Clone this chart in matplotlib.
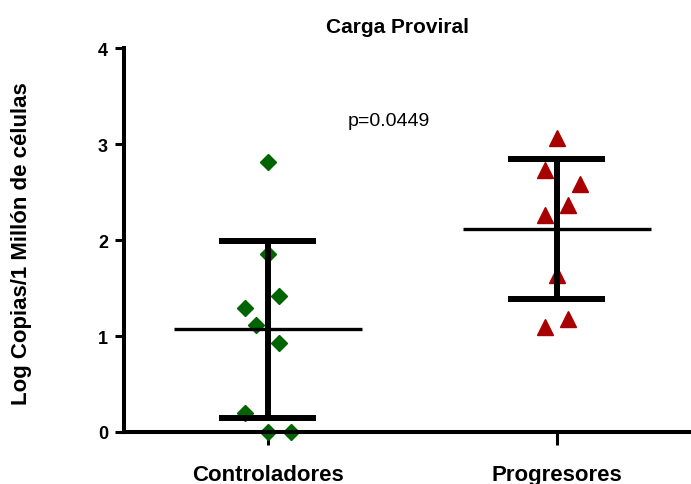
import numpy as np
import matplotlib
matplotlib.use("Agg")
from matplotlib import pyplot as plt

# Values
groups = ["Controladores", "Progresores"]
controladores = [2.81, 1.85, 1.42, 1.29, 1.11, 0.93, 0.20, 0.0, 0.0]
progresores = [3.06, 2.73, 2.58, 2.36, 2.26, 1.64, 1.18, 1.09]
p_text = "p=0.0449"
title = "Carga Proviral"
ylabel = "Log Copias/1 Millón de células"
yticks = [0, 1, 2, 3, 4]

# Horizontal scatter of the points inside each column (layout only)
jitter_ctrl = [0, 0, 0.04, -0.08, -0.04, 0.04, -0.08, 0, 0.08]
jitter_prog = [0, -0.04, 0.08, 0.04, -0.04, 0, 0.04, -0.04]

plt.rcParams["font.family"] = ["Liberation Sans", "DejaVu Sans"]

fig = plt.figure(figsize=(6.91, 4.85), dpi=100)
W, H = 691, 485
ax = fig.add_axes([124 / W, (H - 433) / H, (W - 124) / W, (433 - 49) / H])

styles = [
    (controladores, jitter_ctrl, "D", 8.2, "#006400"),
    (progresores, jitter_prog, "^", 11.5, "#a80000"),
]
for i, (vals, jit, mk, ms, col) in enumerate(styles):
    vals = np.array(vals)
    ax.plot(i + np.array(jit), vals, ls="none", marker=mk, ms=ms,
            color=col, mec=col, zorder=2, clip_on=False)
    mean = vals.mean()
    sd = vals.std(ddof=1)
    # mean line
    ax.hlines(mean, i - 0.325, i + 0.325, color="black", lw=2.4, zorder=3)
    # error bar (mean +/- SD)
    ax.vlines(i, mean - sd, mean + sd, color="black", lw=4.3, zorder=3)
    ax.hlines([mean - sd, mean + sd], i - 0.167, i + 0.167,
              color="black", lw=4.3, zorder=3)

ax.set_xlim(-0.497, 1.465)
ax.set_ylim(0, 4)
ax.set_yticks(yticks)
ax.set_xticks(range(len(groups)))
ax.set_xticklabels(groups, fontsize=16, fontweight="bold")
ax.tick_params(axis="y", labelsize=13, width=2.2, length=6.5, pad=5)
ax.tick_params(axis="x", width=2.2, length=9, pad=14)
for lab in ax.get_yticklabels():
    lab.set_fontweight("bold")

for s in ["top", "right"]:
    ax.spines[s].set_visible(False)
for s in ["left", "bottom"]:
    ax.spines[s].set_linewidth(2.9)

fig.text(22 / W, 1 - 244 / H, ylabel, rotation=90, ha="center",
         va="center", fontsize=16, fontweight="bold")
fig.text(398 / W, 1 - 33 / H, title, ha="center", va="baseline",
         fontsize=15, fontweight="bold")
ax.text(0.42, 3.2, p_text, ha="center", va="baseline", fontsize=14)

fig.savefig("out.png", dpi=100)
